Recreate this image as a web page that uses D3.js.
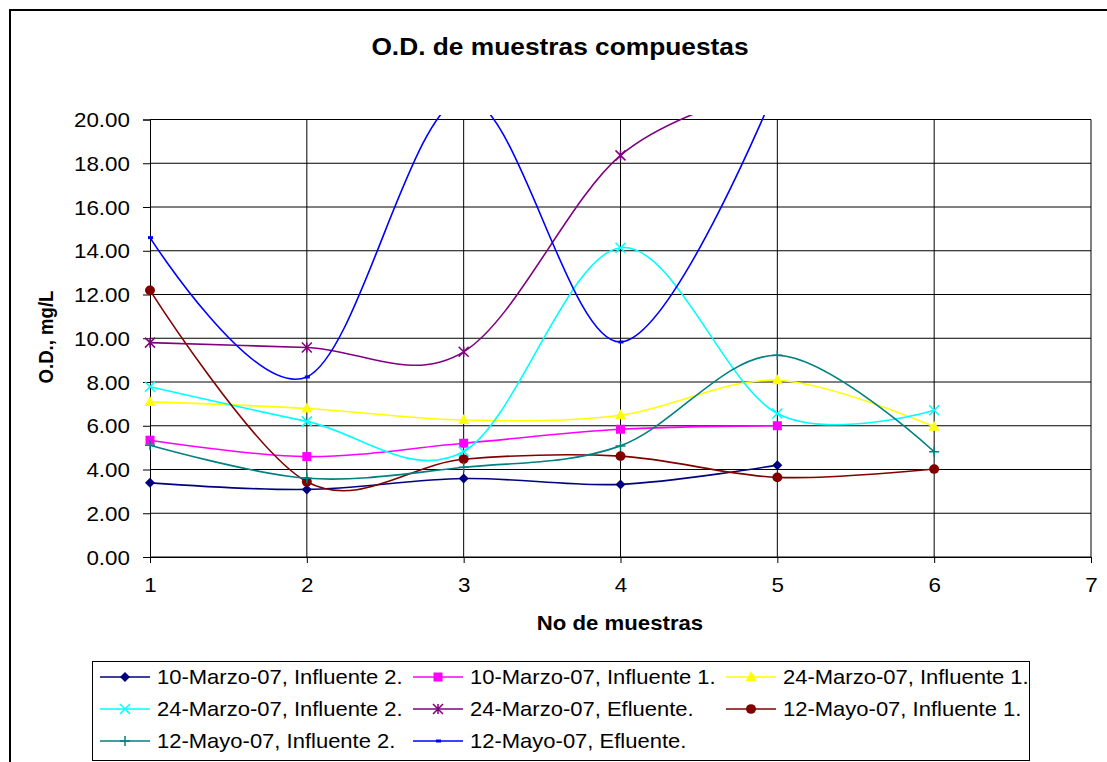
<!DOCTYPE html>
<html><head><meta charset="utf-8">
<script src="https://cdn.jsdelivr.net/npm/d3@7"></script>
<style>body{margin:0;background:#fff}svg{display:block}text{font-family:Arial,"Liberation Sans",sans-serif;fill:#000}</style>
</head><body>
<svg id="c" width="1107" height="762"></svg>
<script>
// ---- data ----
const xCategories = [1, 2, 3, 4, 5, 6];
const xTicks = [1, 2, 3, 4, 5, 6, 7];
const yTicks = [0, 2, 4, 6, 8, 10, 12, 14, 16, 18, 20];
const seriesNames = [
  "10-Marzo-07, Influente 2.",
  "10-Marzo-07, Influente 1.",
  "24-Marzo-07, Influente 1.",
  "24-Marzo-07, Influente 2.",
  "24-Marzo-07, Efluente.",
  "12-Mayo-07, Influente 1.",
  "12-Mayo-07, Influente 2.",
  "12-Mayo-07, Efluente."
];
const marzo10Inf2 = [3.39, 3.09, 3.59, 3.32, 4.20];
const marzo10Inf1 = [5.34, 4.59, 5.20, 5.84, 6.00];
const marzo24Inf1 = [7.09, 6.79, 6.26, 6.48, 8.08, 5.95];
const marzo24Inf2 = [7.78, 6.20, 4.82, 14.14, 6.56, 6.71];
const marzo24Efl  = [9.80, 9.58, 9.38, 18.36, 21.5];
const mayo12Inf1  = [12.19, 3.44, 4.47, 4.61, 3.64, 4.02];
const mayo12Inf2  = [5.11, 3.60, 4.10, 5.08, 9.22, 4.81];
const mayo12Efl   = [14.60, 8.23, 21.0, 9.83, 21.6];
const seriesValues = [marzo10Inf2, marzo10Inf1, marzo24Inf1, marzo24Inf2, marzo24Efl, mayo12Inf1, mayo12Inf2, mayo12Efl];
const seriesColors = ["#000080", "#FF00FF", "#FFFF00", "#00FFFF", "#800080", "#800000", "#008080", "#0000FF"];
const seriesMarkers = ["diamond", "square", "triangle", "x", "star", "circle", "plus", "dash"];

// ---- layout ----
const svg = d3.select("#c");
const SX = 1.12; // horizontal text stretch of the original
const L = 150, R = 1091, T = 119.5, B = 557;
const x = d3.scaleLinear().domain([1, 7]).range([L, R]);
const y = d3.scaleLinear().domain([0, 20]).range([B, T]);

// outer chart border
svg.append("path").attr("d", "M10,780 L10,10 L1120,10").attr("fill", "none").attr("stroke", "#000").attr("stroke-width", 2);

// title
svg.append("text").attr("transform", `translate(560,55) scale(${SX},1)`).attr("text-anchor", "middle")
  .attr("font-size", 23.5).attr("font-weight", "bold").text("O.D. de muestras compuestas");

// grid
const g = svg.append("g");
g.selectAll(".hg").data(yTicks).join("line")
  .attr("x1", L).attr("x2", R).attr("y1", d => y(d)).attr("y2", d => y(d))
  .attr("stroke", "#000").attr("stroke-width", 1);
g.selectAll(".vg").data(xTicks.slice(1)).join("line")
  .attr("x1", d => x(d)).attr("x2", d => x(d)).attr("y1", T).attr("y2", B)
  .attr("stroke", "#000").attr("stroke-width", 1);

// axes
const yAxis = d3.axisLeft(y).tickValues(yTicks).tickSize(7).tickFormat(d3.format(".2f"));
const ya = svg.append("g").attr("transform", `translate(${L},0)`).call(yAxis);
ya.select(".domain").attr("stroke", "#000");
ya.selectAll(".tick line").attr("stroke", "#000");
ya.selectAll(".tick text").attr("font-size", 20).attr("x", 0).attr("dy", null).attr("y", 0)
  .attr("text-anchor", "end")
  .attr("transform", `translate(-20,7) scale(${SX},1)`);

const xAxis = d3.axisBottom(x).tickValues(xTicks).tickSize(6).tickFormat(d3.format("d"));
const xa = svg.append("g").attr("transform", `translate(0,${B})`).call(xAxis);
xa.select(".domain").attr("stroke", "#000");
xa.selectAll(".tick line").attr("stroke", "#000");
xa.selectAll(".tick text").attr("font-size", 20).attr("y", 0).attr("dy", null)
  .attr("transform", `translate(0,35) scale(${SX},1)`);
svg.selectAll(".tick text").attr("font-family", null);

// axis titles
svg.append("text").attr("transform", `translate(620,630) scale(${SX},1)`).attr("text-anchor", "middle")
  .attr("font-size", 19.8).attr("font-weight", "bold").text("No de muestras");
svg.append("text").attr("transform", `translate(53,337) scale(${SX},1) rotate(-90)`).attr("text-anchor", "middle")
  .attr("font-size", 18.6).attr("font-weight", "bold").text("O.D., mg/L");

// clip
svg.append("clipPath").attr("id", "pc").append("rect").attr("x", L - 5).attr("y", T - 4.5).attr("width", R - L + 10).attr("height", B - T + 10);

function drawMarker(sel, type, color) {
  const s = 5;
  if (type === "diamond") sel.append("path").attr("d", `M0,${-s}L${s},0L0,${s}L${-s},0Z`).attr("fill", color);
  else if (type === "square") sel.append("rect").attr("x", -4.5).attr("y", -4.5).attr("width", 9).attr("height", 9).attr("fill", color);
  else if (type === "triangle") sel.append("path").attr("d", "M0,-6L5.5,4L-5.5,4Z").attr("fill", color);
  else if (type === "circle") sel.append("ellipse").attr("rx", 5).attr("ry", 4.8).attr("fill", color);
  else if (type === "x") sel.append("path").attr("d", `M${-s},${-s}L${s},${s}M${-s},${s}L${s},${-s}`).attr("stroke", color).attr("stroke-width", 1.5);
  else if (type === "star") sel.append("path").attr("d", `M${-s},${-s}L${s},${s}M${-s},${s}L${s},${-s}M0,${-s}L0,${s}`).attr("stroke", color).attr("stroke-width", 1.5);
  else if (type === "plus") sel.append("path").attr("d", `M${-s},0L${s},0M0,${-s}L0,${s}`).attr("stroke", color).attr("stroke-width", 1.5);
  else if (type === "dash") sel.append("rect").attr("x", -2).attr("y", -1.5).attr("width", 5).attr("height", 3).attr("fill", color);
}

const line = d3.line().x((d, i) => x(xCategories[i])).y(d => y(d)).curve(d3.curveCardinal.tension(0));
const plot = svg.append("g");
seriesValues.forEach((vals, k) => {
  plot.append("path").attr("d", line(vals)).attr("fill", "none").attr("stroke", seriesColors[k])
    .attr("stroke-width", 1.6).attr("clip-path", "url(#pc)");
  vals.forEach((v, i) => {
    if (v <= 20) {
      const m = plot.append("g").attr("transform", `translate(${x(xCategories[i])},${y(v)})`);
      drawMarker(m, seriesMarkers[k], seriesColors[k]);
    }
  });
});

// legend
const lg = svg.append("g");
lg.append("rect").attr("x", 92.5).attr("y", 661.5).attr("width", 937).attr("height", 99).attr("fill", "#fff").attr("stroke", "#000").attr("stroke-width", 1);
const colX = [100, 413, 726];
const rowY = [684, 716, 748];
seriesNames.forEach((name, k) => {
  const cx = colX[k % 3], by = rowY[Math.floor(k / 3)];
  const ly = by - 7;
  lg.append("line").attr("x1", cx).attr("x2", cx + 50).attr("y1", ly).attr("y2", ly).attr("stroke", seriesColors[k]).attr("stroke-width", 1.6);
  const m = lg.append("g").attr("transform", `translate(${cx + 25},${ly})`);
  drawMarker(m, seriesMarkers[k], seriesColors[k]);
  lg.append("text").attr("transform", `translate(${cx + 57},${by}) scale(1.1,1)`).attr("font-size", 20).text(name);
});
</script>
</body></html>
